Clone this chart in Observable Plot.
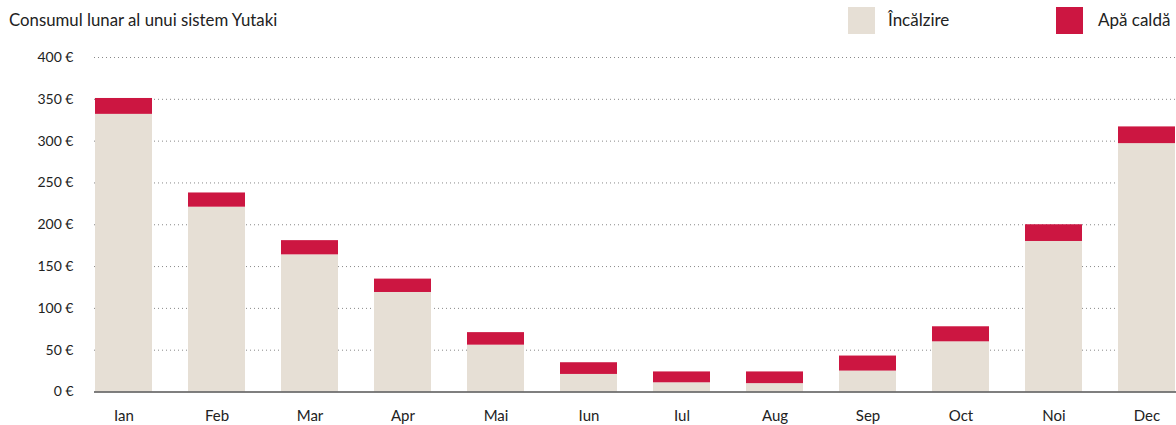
<!DOCTYPE html>
<html>
<head>
<meta charset="utf-8">
<script src="https://cdn.jsdelivr.net/npm/d3@7"></script>
<script src="https://cdn.jsdelivr.net/npm/@observablehq/plot@0.6"></script>
<style>
  html, body { margin: 0; padding: 0; background: #fff; overflow: hidden; }
  body { font-family: Lato, "Noto Sans", sans-serif; color: #222; width: 1176px; }
  #header { position: relative; height: 40px; }
  #title { position: absolute; left: 9px; top: 9px; font-size: 16.8px; }
  .sw { position: absolute; top: 7px; width: 27px; height: 27px; }
  .lt { position: absolute; top: 9px; font-size: 17px; }
</style>
</head>
<body>
<div id="header">
  <div id="title">Consumul lunar al unui sistem Yutaki</div>
  <div class="sw" id="sw0" style="left:848px"></div>
  <div class="lt" id="lt0" style="left:888px"></div>
  <div class="sw" id="sw1" style="left:1056px"></div>
  <div class="lt" id="lt1" style="left:1098px"></div>
</div>
<div id="chart"></div>
<script>
const months = ["Ian", "Feb", "Mar", "Apr", "Mai", "Iun", "Iul", "Aug", "Sep", "Oct", "Noi", "Dec"];
const seriesNames = ["Încălzire", "Apă caldă"];
const heating = [332, 221, 164, 119, 56, 21, 11, 10, 25, 60, 180, 297];
const hotWater = [19, 17, 17, 16, 15, 14, 13, 14, 18, 18, 20, 20];
const yTicks = [0, 50, 100, 150, 200, 250, 300, 350, 400];
const colors = ["#e6dfd5", "#cc1641"];

document.getElementById("sw0").style.background = colors[0];
document.getElementById("sw1").style.background = colors[1];
document.getElementById("lt0").textContent = seriesNames[0];
document.getElementById("lt1").textContent = seriesNames[1];

const data = [];
months.forEach((m, i) => {
  data.push({month: m, type: seriesNames[0], value: heating[i]});
  data.push({month: m, type: seriesNames[1], value: hotWater[i]});
});

const chart = Plot.plot({
  width: 1176,
  height: 385,
  marginLeft: 94,
  marginRight: 0,
  marginTop: 17,
  marginBottom: 33.5,
  style: {fontFamily: "Lato, 'Noto Sans', sans-serif", fontSize: "14px", color: "#222", background: "#fff"},
  x: {domain: months, paddingInner: 0.39, paddingOuter: 0, label: null},
  y: {domain: [0, 400], label: null},
  color: {domain: seriesNames, range: colors},
  marks: [
    Plot.ruleY(yTicks.filter(d => d > 0), {stroke: "#888", strokeDasharray: "1,3", strokeWidth: 1}),
    Plot.barY(data, {x: "month", y: "value", fill: "type"}),
    Plot.ruleY([0], {stroke: "#555", strokeWidth: 1.5}),
    Plot.axisY(yTicks, {tickSize: 0, tickPadding: 21, tickFormat: d => d + "\u00a0€", fontSize: 14}),
    Plot.axisX({tickSize: 0, tickPadding: 18, fontSize: 15})
  ]
});
document.getElementById("chart").appendChild(chart);
</script>
</body>
</html>
